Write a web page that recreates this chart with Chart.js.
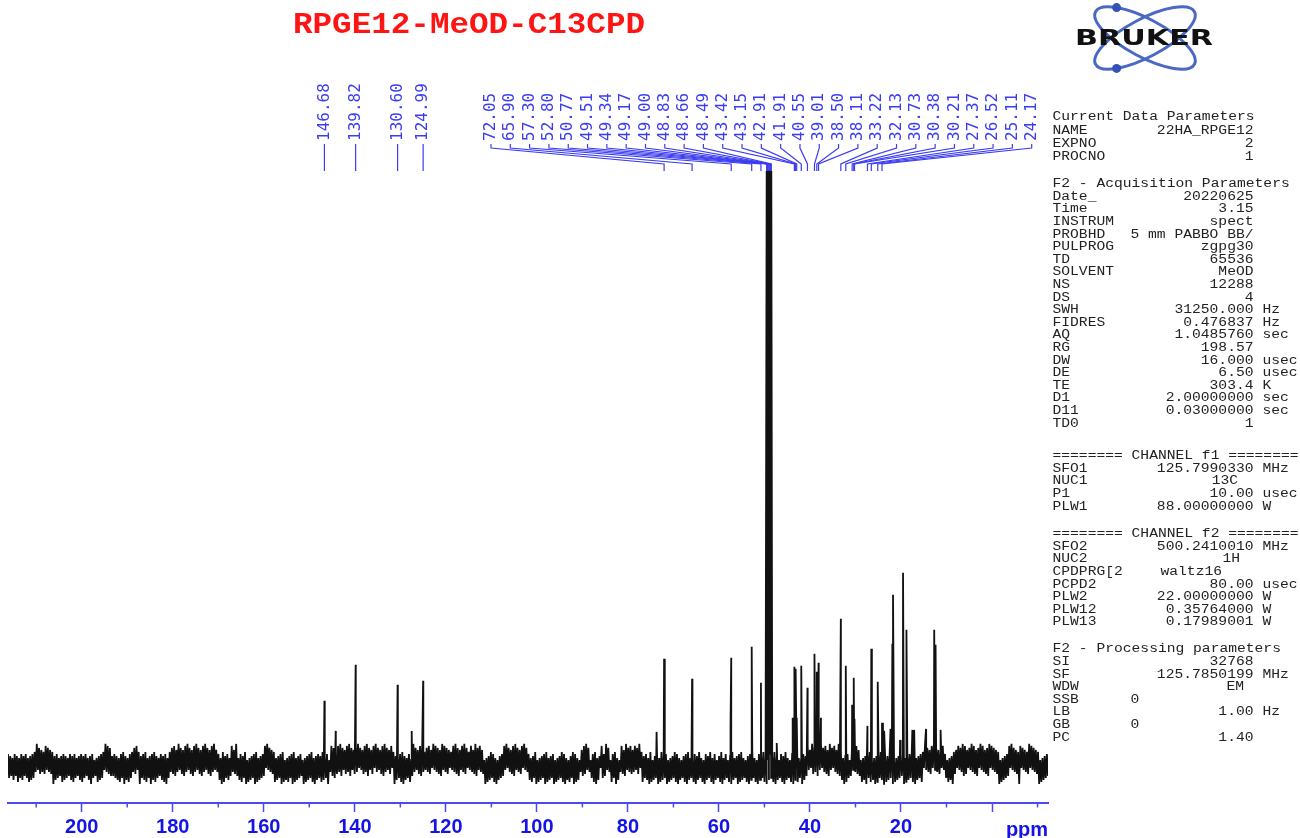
<!DOCTYPE html>
<html>
<head>
<meta charset="utf-8">
<title>RPGE12-MeOD-C13CPD</title>
<script src="https://cdn.jsdelivr.net/npm/chart.js@4.4.0/dist/chart.umd.min.js"></script>
<style>
  body { margin: 0; background: #fff; overflow: hidden; }
  #spectrum { display: block; }
</style>
</head>
<body>
<canvas id="spectrum" width="1300" height="838"></canvas>
<script>
// picked peaks (ppm) and their heights above the baseline
var labelPpm = [146.68, 139.82, 130.60, 124.99,
  72.05, 65.90, 57.30, 52.80, 50.77, 49.51, 49.34, 49.17, 49.00, 48.83, 48.66, 48.49,
  43.42, 43.15, 42.91, 41.91, 40.55, 39.01, 38.50, 38.11,
  33.22, 32.13, 30.73, 30.38, 30.21, 27.37, 26.52, 25.11, 24.17]
var labelHeight = [63, 99, 79, 83,
  105, 85, 106, 117, 81, 592, 592, 592, 592, 592, 592, 592,
  97, 95, 46, 98, 76, 110, 92, 101,
  145, 98, 59, 86, 45, 38, 115, 82, 41]

// peaks that were not picked
var otherPpm = [144.2, 127.5, 73.7, 57.45, 47.3, 43.8, 37.6, 23.7, 22.3, 21.9, 21.75,
  20.2, 19.55, 18.8, 17.5, 17.1, 14.5, 12.7, 12.4, 11.3]
var otherHeight = [33, 33, 32, 39, 21, 46, 46, 33, 35, 120, 169,
  24, 191, 134, 34, 34, 35, 134, 119, 34]

// baseline noise, one digit per point
var noiseLevels =
  "4635274538264735462837465392746354827364593746253847362547384625374836452739461528374652938475" +
  "3546372846593728465374825936475826394758362547384926537485639274658392746583927465839274658392" +
  "6347295836472583649527483659182736495827364581927364582736495817283649582736451928374658293746" +
  "3857264913857624839572648395726483917264839572648193726485937264815937264859372648159372648593" +
  "5273846192837465928374615283947562839471528364957283641928375648291736458291736485927364819273" +
  "4728365918273649582736491827365849271836594827136584927316485927318645927318465927138465927384" +
  "6382749158364729581736492857364918273658492716384957261849375628194736582947163859274618395726" +
  "3948572618394756281947365829174638592716483957261849375826194735826194738562917384659271836495" +
  "5729384615729384651827394658172938465719283746591827364519283746581927364851927364819273645182" +
  "4618273954618273958461729384657192836475918273645918273645819273645981726354918273645918273645"

var axisTicks = [200, 180, 160, 140, 120, 100, 80, 60, 40, 20, 0]
var minorTicks = [210, 190, 170, 150, 130, 110, 90, 70, 50, 30, 10, -10]
var ppmLeft = 216.2
var ppmRight = -12.3

// parameter listing on the right
var currentData = [["Current Data Parameters"], ["NAME", "22HA_RPGE12"], ["EXPNO", "2"], ["PROCNO", "1"]]
var acquisition = [["F2 - Acquisition Parameters"], ["Date_", "20220625"], ["Time", "3.15"],
  ["INSTRUM", "spect"], ["PROBHD", "5 mm PABBO BB/"], ["PULPROG", "zgpg30"], ["TD", "65536"],
  ["SOLVENT", "MeOD"], ["NS", "12288"], ["DS", "4"], ["SWH", "31250.000", "Hz"],
  ["FIDRES", "0.476837", "Hz"], ["AQ", "1.0485760", "sec"], ["RG", "198.57"],
  ["DW", "16.000", "usec"], ["DE", "6.50", "usec"], ["TE", "303.4", "K"],
  ["D1", "2.00000000", "sec"], ["D11", "0.03000000", "sec"], ["TD0", "1"]]
var channel1 = [["======== CHANNEL f1 ========"], ["SFO1", "125.7990330", "MHz"], ["NUC1", "13C"],
  ["P1", "10.00", "usec"], ["PLW1", "88.00000000", "W"]]
var channel2 = [["======== CHANNEL f2 ========"], ["SFO2", "500.2410010", "MHz"], ["NUC2", "1H"],
  ["CPDPRG[2", "waltz16"], ["PCPD2", "80.00", "usec"], ["PLW2", "22.00000000", "W"],
  ["PLW12", "0.35764000", "W"], ["PLW13", "0.17989001", "W"]]
var processing = [["F2 - Processing parameters"], ["SI", "32768"], ["SF", "125.7850199", "MHz"],
  ["WDW", "EM"], ["SSB", "0"], ["LB", "1.00", "Hz"], ["GB", "0"], ["PC", "1.40"]]

// build the trace: zigzag noise plus the peaks, sorted by ppm
var points = []
var step = (ppmLeft - ppmRight) / (noiseLevels.length - 1)
for (var i = 0; i < noiseLevels.length; i++) {
  var amp = 2 + Number(noiseLevels[i]) * 2
  points.push({ x: ppmLeft - i * step, y: i % 2 ? -amp : amp })
}
labelPpm.forEach((p, i) => points.push({ x: p, y: labelHeight[i] }))
otherPpm.forEach((p, i) => points.push({ x: p, y: otherHeight[i] }))
points.sort((a, b) => b.x - a.x)

const blue = "#3c3cf0"

function wideText(ctx, str, x, y, align, sx) {
  ctx.save()
  ctx.translate(x, y)
  ctx.scale(sx, 1)
  ctx.textAlign = align
  ctx.fillText(str, 0, 0)
  ctx.restore()
}

const decorations = {
  id: "decorations",
  afterDraw(chart) {
    const ctx = chart.ctx
    const xs = chart.scales.x
    const bottom = chart.chartArea.bottom

    // title
    ctx.save()
    ctx.fillStyle = "#ff1414"
    ctx.font = "bold 30px 'Liberation Mono'"
    ctx.textBaseline = "middle"
    var tw = ctx.measureText("RPGE12-MeOD-C13CPD").width
    wideText(ctx, "RPGE12-MeOD-C13CPD", 469, 25, "center", 352 / tw)
    ctx.restore()

    // logo
    ctx.save()
    ctx.strokeStyle = "#4a68c4"
    ctx.fillStyle = "#3552b4"
    ctx.lineWidth = 3
    var cx = 1145, cy = 38, ang = 28 * Math.PI / 180
    ;[ang, -ang].forEach(a => {
      ctx.beginPath()
      ctx.ellipse(cx, cy, 56, 19, a, 0, Math.PI * 2)
      ctx.stroke()
    })
    ;[[ang, -2.35], [-ang, 2.35]].forEach(d => {
      var t = d[1]
      var ex = 56 * Math.cos(t), ey = 19 * Math.sin(t)
      ctx.beginPath()
      ctx.arc(cx + ex * Math.cos(d[0]) - ey * Math.sin(d[0]), cy + ex * Math.sin(d[0]) + ey * Math.cos(d[0]), 4.5, 0, Math.PI * 2)
      ctx.fill()
    })
    ctx.fillStyle = "#111"
    ctx.font = "bold 21px 'DejaVu Sans'"
    ctx.textBaseline = "middle"
    var bw = ctx.measureText("BRUKER").width
    wideText(ctx, "BRUKER", 1144, 40, "center", 138 / bw)
    ctx.restore()

    // parameter listing
    ctx.save()
    ctx.fillStyle = "#222"
    ctx.font = "12px 'Liberation Mono'"
    ctx.textBaseline = "middle"
    var sx = 1.22
    var valueEdge = { "CPDPRG[2": 1222, NUC1: 1238, NUC2: 1240, WDW: 1244 }
    ;[[currentData, 117.3, 13.1], [acquisition, 184, 12.6], [channel1, 456, 12.6],
      [channel2, 534, 12.6], [processing, 649.3, 12.6]].forEach(sec => {
      sec[0].forEach((row, r) => {
        var y = sec[1] + r * sec[2]
        wideText(ctx, row[0], 1052.5, y, "left", sx)
        if (row.length < 2) return
        if (row[0] === "SSB" || row[0] === "GB") {
          wideText(ctx, row[1], 1135, y, "center", sx)
        } else {
          wideText(ctx, row[1], valueEdge[row[0]] || 1253.5, y, "right", sx)
        }
        if (row[2]) wideText(ctx, row[2], 1262.5, y, "left", sx)
      })
    })
    ctx.restore()

    // peak labels with leader lines
    ctx.save()
    ctx.fillStyle = blue
    ctx.strokeStyle = blue
    ctx.lineWidth = 1.2
    ctx.font = "16px 'DejaVu Sans Mono'"
    labelPpm.forEach((p, i) => {
      var px = xs.getPixelForValue(p)
      var lx = i < 4 ? px : 491 + (i - 4) * 19.31
      ctx.save()
      ctx.translate(lx, 141)
      ctx.rotate(-Math.PI / 2)
      ctx.textAlign = "left"
      ctx.textBaseline = "middle"
      ctx.fillText(p.toFixed(2), 0, 0)
      ctx.restore()
      ctx.beginPath()
      ctx.moveTo(lx, 144)
      if (i >= 4) {
        ctx.lineTo(lx, 148)
        ctx.lineTo(px, 164)
      }
      ctx.lineTo(px, 171)
      ctx.stroke()
    })
    ctx.restore()

    // minor ticks and unit
    ctx.save()
    ctx.strokeStyle = "#4a4af5"
    ctx.lineWidth = 1.5
    minorTicks.forEach(v => {
      var tx = xs.getPixelForValue(v)
      ctx.beginPath()
      ctx.moveTo(tx, bottom)
      ctx.lineTo(tx, bottom + 4.5)
      ctx.stroke()
    })
    ctx.fillStyle = "#1414e6"
    ctx.font = "bold 20px 'Liberation Sans'"
    ctx.textAlign = "center"
    ctx.textBaseline = "alphabetic"
    ctx.fillText("ppm", 1027, 836)
    ctx.restore()
  }
}

new Chart("spectrum", {
  type: "line",
  data: {
    datasets: [{
      data: points,
      borderColor: "#111",
      borderWidth: 1.8,
      pointRadius: 0,
      tension: 0,
      fill: false
    }]
  },
  options: {
    responsive: false,
    animation: false,
    layout: { padding: { top: 165, left: 8, right: 252, bottom: -4 } },
    plugins: {
      legend: { display: false },
      tooltip: { enabled: false }
    },
    scales: {
      x: {
        type: "linear",
        reverse: true,
        min: ppmRight,
        max: ppmLeft,
        afterBuildTicks: scale => { scale.ticks = axisTicks.map(v => ({ value: v })) },
        grid: { drawOnChartArea: false, drawTicks: true, tickLength: 9, tickColor: "#4a4af5", tickWidth: 1.5 },
        border: { display: true, color: "#4a4af5", width: 2 },
        ticks: {
          color: "#1414e6",
          font: { family: "Liberation Sans", size: 20, weight: "bold" },
          padding: 3,
          maxRotation: 0,
          autoSkip: false,
          callback: v => v === 0 ? "" : v
        }
      },
      y: { display: false, min: -39, max: 598 }
    }
  },
  plugins: [decorations]
})
</script>
</body>
</html>
